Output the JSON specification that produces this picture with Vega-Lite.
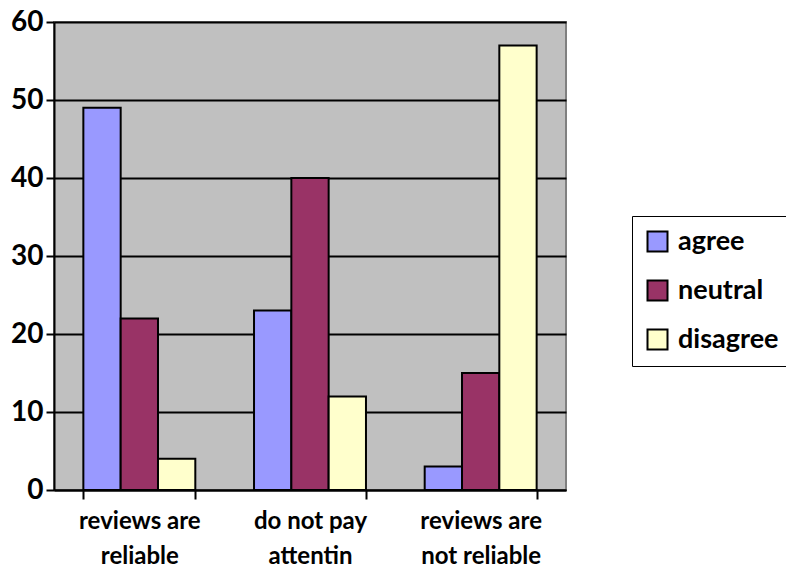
{
  "$schema": "https://vega.github.io/schema/vega-lite/v6.json",
  "width": 512,
  "height": 468,
  "padding": {"left": 10, "top": 8, "right": 0, "bottom": 0},
  "autosize": {"type": "pad"},
  "background": "white",
  "config": {
    "view": {"fill": "#C0C0C0", "stroke": "#808080", "strokeWidth": 2},
    "font": "Lato"
  },
  "data": {
    "values": [
      {"category": "reviews are reliable", "response": "agree", "value": 49},
      {"category": "reviews are reliable", "response": "neutral", "value": 22},
      {"category": "reviews are reliable", "response": "disagree", "value": 4},
      {"category": "do not pay attentin", "response": "agree", "value": 23},
      {"category": "do not pay attentin", "response": "neutral", "value": 40},
      {"category": "do not pay attentin", "response": "disagree", "value": 12},
      {"category": "reviews are not reliable", "response": "agree", "value": 3},
      {"category": "reviews are not reliable", "response": "neutral", "value": 15},
      {"category": "reviews are not reliable", "response": "disagree", "value": 57}
    ]
  },
  "mark": {"type": "bar", "stroke": "black", "strokeWidth": 2},
  "encoding": {
    "x": {
      "field": "category",
      "type": "nominal",
      "sort": ["reviews are reliable", "do not pay attentin", "reviews are not reliable"],
      "scale": {"paddingInner": 0.344, "paddingOuter": 0.172},
      "axis": {
        "title": null,
        "labelAngle": 0,
        "labelFont": "Lato",
        "labelFontWeight": "bold",
        "labelFontSize": 24,
        "labelColor": "black",
        "labelPadding": 10,
        "labelLineHeight": 35,
        "labelExpr": "datum.value == 'reviews are reliable' ? ['reviews are', 'reliable'] : datum.value == 'do not pay attentin' ? ['do not pay', 'attentin'] : datum.value == 'reviews are not reliable' ? ['reviews are', 'not reliable'] : ''",
        "domainColor": "black",
        "domainWidth": 2,
        "tickColor": "black",
        "tickWidth": 2,
        "tickSize": 9,
        "tickBand": "extent"
      }
    },
    "xOffset": {
      "field": "response",
      "type": "nominal",
      "sort": ["agree", "neutral", "disagree"],
      "scale": {"paddingInner": 0, "paddingOuter": 0}
    },
    "y": {
      "field": "value",
      "type": "quantitative",
      "scale": {"domain": [0, 60]},
      "axis": {
        "title": null,
        "values": [0, 10, 20, 30, 40, 50, 60],
        "labelFont": "Lato",
        "labelFontWeight": "bold",
        "labelFontSize": 28,
        "labelColor": "black",
        "labelPadding": 3,
        "domainColor": "black",
        "domainWidth": 2,
        "tickColor": "black",
        "tickWidth": 2,
        "tickSize": 8,
        "gridColor": "black",
        "gridWidth": 2
      }
    },
    "color": {
      "field": "response",
      "type": "nominal",
      "sort": ["agree", "neutral", "disagree"],
      "scale": {
        "domain": ["agree", "neutral", "disagree"],
        "range": ["#9999FF", "#993366", "#FFFFCC"]
      },
      "legend": {
        "title": null,
        "orient": "none",
        "legendX": 578,
        "legendY": 194,
        "symbolType": "square",
        "symbolSize": 400,
        "symbolStrokeColor": "black",
        "symbolStrokeWidth": 2,
        "labelFont": "Lato",
        "labelFontWeight": "bold",
        "labelFontSize": 27,
        "labelColor": "black",
        "rowPadding": 20,
        "strokeColor": "black",
        "padding": 12,
        "labelOffset": 7
      }
    }
  }
}
